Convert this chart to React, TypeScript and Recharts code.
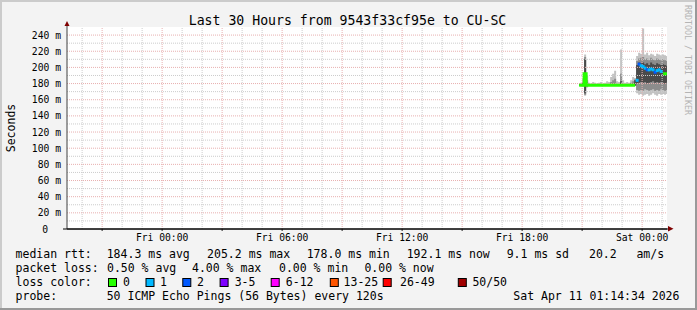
import React from "react";
import { ComposedChart, Area, Line, XAxis, YAxis, CartesianGrid, ReferenceLine } from "recharts";

// hours relative to Fri 00:00 (window: Thu 19:14 .. Sat 01:14)
const hours = [
  20.85, 20.95, 21.05, 21.15, 21.25, 21.35, 21.45, 21.55, 21.65, 21.75,
  21.85, 21.95, 22.05, 22.15, 22.25, 22.35, 22.45, 22.55, 22.65, 22.75,
  22.85, 22.95, 23.05, 23.15, 23.25, 23.35, 23.45, 23.55, 23.65, 23.75,
  23.85, 23.95, 24.05, 24.15, 24.25, 24.35, 24.45, 24.55, 24.65, 24.75,
  24.85, 24.95, 25.05, 25.15, 25.24,
];

// median rtt in ms
const median = [
  178, 178, 178, 192, 178, 178, 178, 178, 178, 178,
  178, 178, 178, 178, 178, 178, 178, 178, 178, 178,
  178, 178, 178, 178, 178, 178, 178, 178, 178, 184,
  204, 202, 201, 199, 197, 197, 198, 197, 194, 196,
  197, 195, 192, 192, 192,
];

// lost pings per step
const loss = [
  0, 0, 0, 0, 0, 0, 0, 0, 0, 0,
  0, 0, 0, 0, 0, 0, 0, 0, 0, 0,
  0, 0, 0, 0, 0, 0, 0, 0, 0, 1,
  2, 1, 1, 1, 2, 1, 1, 1, 2, 1,
  1, 1, 0, 0, 0,
];

// smoke: min/max, 10/90 and 25/75 percentiles (ms)
const smokeMin = [
  177, 177, 176, 165, 175, 177, 177, 177, 177, 177,
  177, 177, 177, 177, 177, 177, 177, 177, 177, 177,
  177, 177, 177, 177, 177, 177, 177, 177, 177, 168,
  166, 167, 165, 166, 167, 165, 166, 168, 166, 165,
  167, 166, 167, 166, 167,
];
const smokeMax = [
  180, 181, 186, 216, 190, 181, 180, 182, 181, 180,
  181, 182, 180, 181, 183, 182, 188, 192, 196, 183,
  182, 222, 184, 181, 182, 181, 184, 188, 187, 214,
  218, 217, 248, 216, 218, 215, 217, 216, 214, 217,
  216, 215, 216, 215, 214,
];
const p10 = [
  177, 177, 177, 166, 176, 177, 177, 177, 177, 177,
  177, 177, 177, 177, 177, 177, 177, 177, 177, 177,
  177, 177, 177, 177, 177, 177, 177, 177, 177, 172,
  171, 172, 171, 173, 172, 171, 172, 173, 171, 172,
  171, 173, 172, 171, 172,
];
const p90 = [
  179.5, 179.5, 182, 213, 184, 179.5, 179.5, 179.5, 179.5, 179.5,
  179.5, 179.5, 179.5, 179.5, 179.5, 179.5, 182, 184, 186, 179.5,
  179.5, 192, 179.5, 179.5, 179.5, 179.5, 181, 183, 185, 208,
  211, 212, 213, 210, 211, 209, 212, 210, 209, 211,
  210, 209, 210, 209, 208,
];
const q1 = [
  177.5, 177.5, 177.5, 168, 177, 177.5, 177.5, 177.5, 177.5, 177.5,
  177.5, 177.5, 177.5, 177.5, 177.5, 177.5, 177.5, 177.5, 177.5, 177.5,
  177.5, 177.5, 177.5, 177.5, 177.5, 177.5, 177.5, 177.5, 177.5, 180,
  181, 182, 181, 182, 180, 181, 182, 183, 181, 182,
  181, 182, 181, 180, 181,
];
const q3 = [
  179, 179, 180, 210, 181, 179, 179, 179, 179, 179,
  179, 179, 179, 179, 179, 179, 179, 179, 179, 179,
  179, 183, 179, 179, 179, 179, 179, 179, 184, 203,
  206, 205, 206, 204, 205, 203, 206, 204, 203, 205,
  204, 203, 204, 203, 202,
];

const labelHours = [0, 6, 12, 18, 24];
const timeLabels = ["Fri 00:00", "Fri 06:00", "Fri 12:00", "Fri 18:00", "Sat 00:00"];
const majorHours = [-3, 0, 3, 6, 9, 12, 15, 18, 21, 24];
const minorHours = [-4, -2, -1, 1, 2, 4, 5, 7, 8, 10, 11, 13, 14, 16, 17, 19, 20, 22, 23, 25];
const majorMs = [20, 40, 60, 80, 100, 120, 140, 160, 180, 200, 220, 240];
const minorMs = [10, 30, 50, 70, 90, 110, 130, 150, 170, 190, 210, 230];
const yTicks = [0, 20, 40, 60, 80, 100, 120, 140, 160, 180, 200, 220, 240];

const lossLabels = ["0", "1", "2", "3-5", "6-12", "13-25", "26-49", "50/50"];
const lossColors = ["#26ff00", "#00b8ff", "#0059ff", "#7e00ff", "#ff00ff", "#ff5500", "#ff0000", "#a10000"];
const rttStats = ["184.3 ms avg", "205.2 ms max", "178.0 ms min", "192.1 ms now", "9.1 ms sd", "20.2", "am/s"];
const lossStats = ["0.50 % avg", "4.00 % max", "0.00 % min", "0.00 % now"];

// layout of the legend fields (px)
const rttX = [106.7, 207.1, 306.7, 406.7, 506.7, 589, 636.4];
const lossStatX = [107, 192, 279, 364.4];
const boxX = [108, 145.5, 182.3, 219.6, 270.7, 329.8, 382.7, 457.8];
const boxLabelX = [123, 160, 197, 234.7, 285.8, 343.6, 400, 472.4];

const rows = hours.map((t, i) => ({
  t,
  green: loss[i] === 0 ? median[i] : null,
  lossy: loss[i] > 0 ? median[i] : null,
  loss: loss[i],
  range: [smokeMin[i], smokeMax[i]],
  outer: [p10[i], p90[i]],
  core: [q1[i], q3[i]],
}));

const MONO = "'DejaVu Sans Mono', monospace";
const MINOR = "#cccccc";
const MAJOR = "#e8b0b0";

function TimeTick({ x, y, payload }: any) {
  const idx = labelHours.indexOf(payload.value);
  if (idx < 0) return <g />;
  return (
    <text x={x} y={y + 4} textAnchor="middle" dominantBaseline="central"
      style={{ fontFamily: MONO, fontSize: 9.7, fill: "#000" }}>
      {timeLabels[idx]}
    </text>
  );
}

function MsTick({ x, y, payload }: any) {
  const v = payload.value;
  return (
    <text x={v === 0 ? x - 13 : x} y={y} textAnchor="end" dominantBaseline="central"
      style={{ fontFamily: MONO, fontSize: 9.7, fill: "#000" }}>
      {v === 0 ? "0" : `${v} m`}
    </text>
  );
}

function LossDot(props: any) {
  const { cx, cy, payload } = props;
  if (payload == null || payload.lossy == null || cx == null || cy == null) return <g />;
  return <rect x={cx - 1.5} y={cy - 1.5} width={3} height={3} fill={lossColors[payload.loss]} />;
}

const txt = { fontFamily: MONO, fontSize: 11.5, fill: "#000" };

export default function App() {
  return (
    <div style={{ position: "absolute", left: 0, top: 0, width: 697, height: 310, background: "#f3f3f3" }}>
      <ComposedChart width={697} height={310} data={rows} margin={{ top: 27, right: 30, bottom: 51, left: 7 }}>
        <CartesianGrid horizontal={false} vertical={false} fill="#ffffff" />
        {minorHours.map((h) => (
          <ReferenceLine key={`vh${h}`} x={h} stroke={MINOR} strokeDasharray="1 1" />
        ))}
        {minorMs.map((m) => (
          <ReferenceLine key={`hm${m}`} y={m} stroke={MINOR} strokeDasharray="1 1" />
        ))}
        {majorHours.map((h) => (
          <ReferenceLine key={`vM${h}`} x={h} stroke={MAJOR} strokeDasharray="1 1" />
        ))}
        {majorMs.map((m) => (
          <ReferenceLine key={`hM${m}`} y={m} stroke={MAJOR} strokeDasharray="1 1" />
        ))}
        <XAxis type="number" dataKey="t" domain={[-4.757, 25.243]} allowDataOverflow ticks={majorHours}
          tick={<TimeTick />} tickSize={2} tickLine={{ stroke: "#202020" }} axisLine={{ stroke: "#000" }}
          height={30} interval={0} />
        <YAxis type="number" domain={[0, 250]} allowDataOverflow ticks={yTicks} tick={<MsTick />}
          tickSize={0} tickMargin={6} tickLine={false} axisLine={{ stroke: "#404040" }} width={60} interval={0} />
        <Area dataKey="range" type="step" stroke="none" fill="#c2c2c2" fillOpacity={1}
          isAnimationActive={false} dot={false} activeDot={false} />
        <Area dataKey="outer" type="step" stroke="none" fill="#8c8c8c" fillOpacity={1}
          isAnimationActive={false} dot={false} activeDot={false} />
        <Area dataKey="core" type="step" stroke="none" fill="#4a4a4a" fillOpacity={1}
          isAnimationActive={false} dot={false} activeDot={false} />
        <Line dataKey="green" type="step" stroke={lossColors[0]} strokeWidth={3} dot={false}
          activeDot={false} isAnimationActive={false} connectNulls={false} />
        <Line dataKey="lossy" type="step" stroke="none" dot={<LossDot />}
          activeDot={false} isAnimationActive={false} connectNulls={false} />
      </ComposedChart>

      <svg width={697} height={310} style={{ position: "absolute", left: 0, top: 0, pointerEvents: "none" }}>
        {/* frame */}
        <rect x={0} y={0} width={697} height={2} fill="#cbcbcb" />
        <rect x={0} y={0} width={2} height={310} fill="#cbcbcb" />
        <rect x={0} y={308} width={697} height={2} fill="#999999" />
        <rect x={695} y={0} width={2} height={310} fill="#999999" />

        {/* axis arrows */}
        <line x1={67} y1={25} x2={67} y2={27} stroke="#404040" />
        <polygon points="64.5,26 69.5,26 67,21" fill="#7f0000" />
        <line x1={63} y1={229} x2={669} y2={229} stroke="#000" />
        <polygon points="668,226 668,231.5 673.5,228.8" fill="#7f0000" />

        <text x={347.5} y={20} textAnchor="middle" dominantBaseline="central"
          style={{ fontFamily: MONO, fontSize: 13.2, fill: "#000" }}>
          Last 30 Hours from 9543f33cf95e to CU-SC
        </text>
        <text x={11} y={128} textAnchor="middle" dominantBaseline="central" transform="rotate(-90 11 128)"
          style={{ fontFamily: MONO, fontSize: 11.5, fill: "#000" }}>
          Seconds
        </text>
        <text x={5} y={688} dominantBaseline="central" transform="rotate(90 688 5) translate(683 -683)"
          style={{ fontFamily: MONO, fontSize: 8.3, fill: "#b4b4b4" }}>
          RRDTOOL / TOBI OETIKER
        </text>

        <text x={15.6} y={254} dominantBaseline="central" style={txt}>median rtt:</text>
        {rttStats.map((s, i) => (
          <text key={s} x={rttX[i]} y={254} dominantBaseline="central" style={txt}>{s}</text>
        ))}
        <text x={15.6} y={268} dominantBaseline="central" style={txt}>packet loss:</text>
        {lossStats.map((s, i) => (
          <text key={s} x={lossStatX[i]} y={268} dominantBaseline="central" style={txt}>{s}</text>
        ))}
        <text x={15.6} y={282} dominantBaseline="central" style={txt}>loss color:</text>
        {lossLabels.map((s, i) => (
          <g key={s}>
            <rect x={boxX[i] + 0.5} y={278.5} width={8} height={8} fill={lossColors[i]} stroke="#000" strokeWidth={1} />
            <text x={boxLabelX[i]} y={282} dominantBaseline="central" style={txt}>{s}</text>
          </g>
        ))}
        <text x={15.6} y={296} dominantBaseline="central" style={txt}>probe:</text>
        <text x={106.7} y={296} dominantBaseline="central" style={txt}>50 ICMP Echo Pings (56 Bytes) every 120s</text>
        <text x={513.3} y={296} dominantBaseline="central" style={txt}>Sat Apr 11 01:14:34 2026</text>
      </svg>
    </div>
  );
}
